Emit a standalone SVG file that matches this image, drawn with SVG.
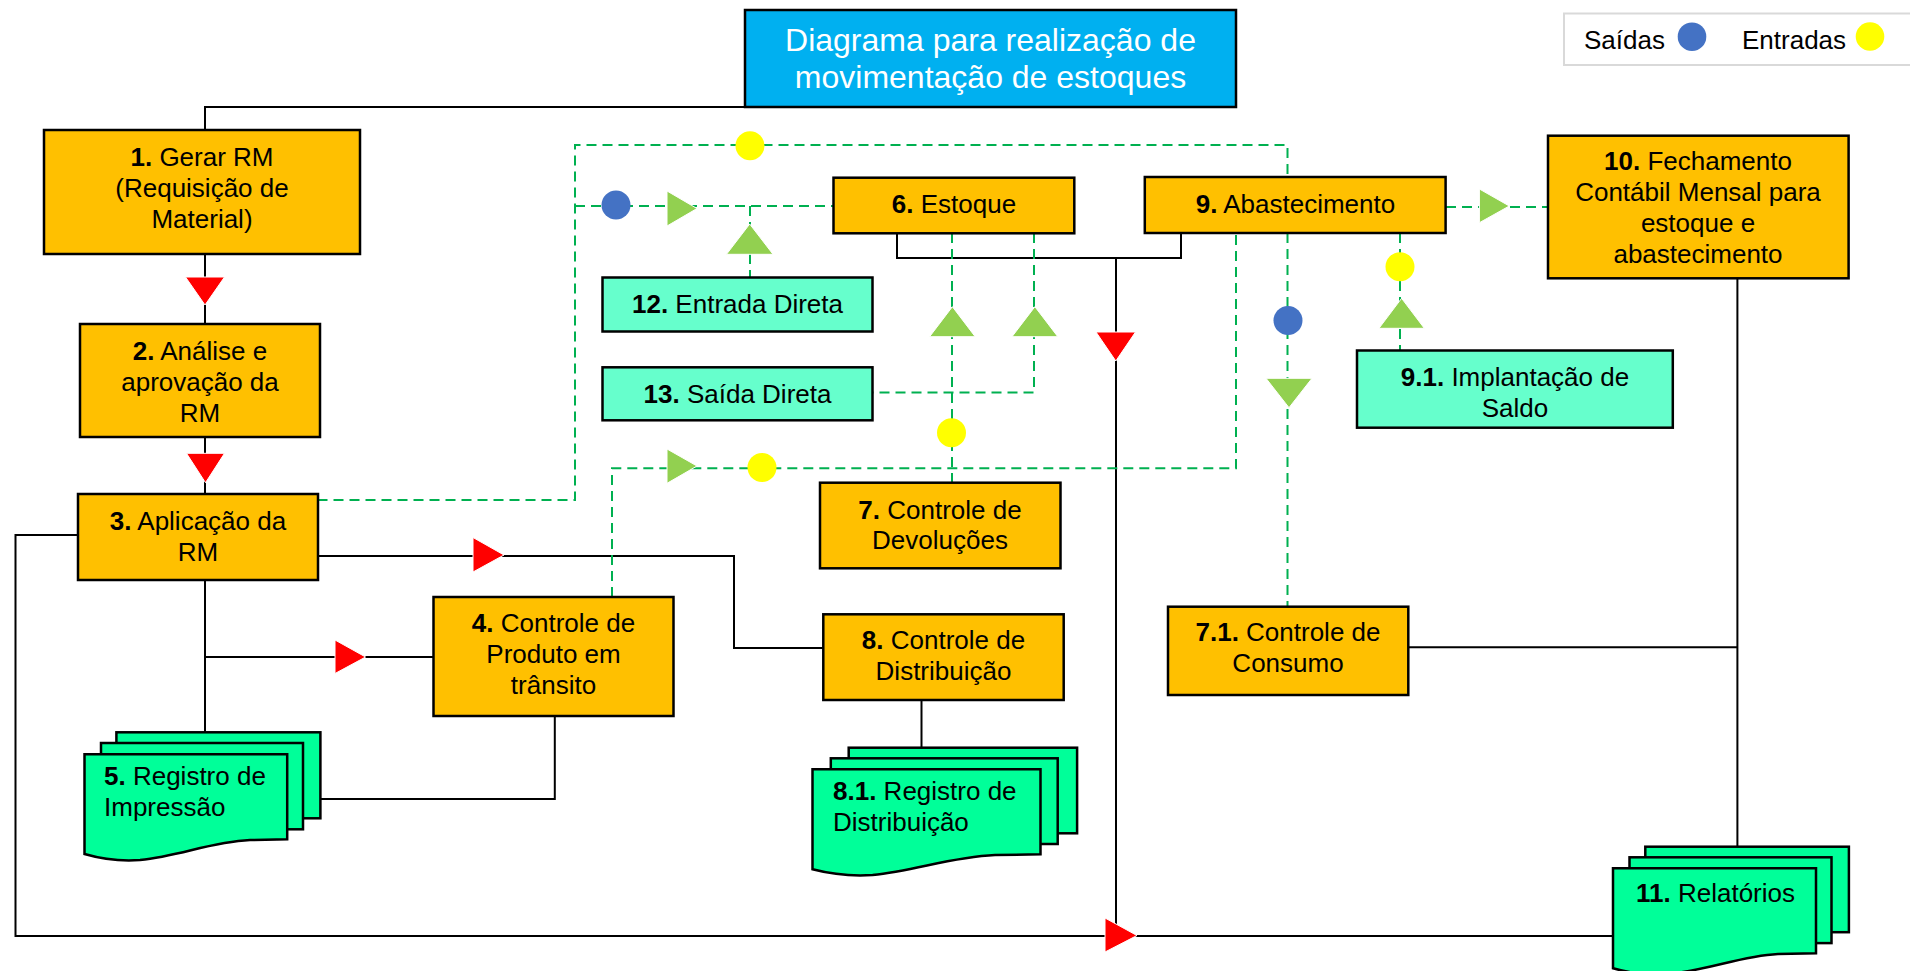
<svg xmlns="http://www.w3.org/2000/svg" width="1910" height="971" viewBox="0 0 1910 971">
<style>
.box{fill:#FFC000;stroke:#000;stroke-width:2.5}
.teal{fill:#66FFCC;stroke:#000;stroke-width:2.5}
.doc{fill:#00FF99;stroke:#000;stroke-width:2.5}
.ln{fill:none;stroke:#000;stroke-width:2}
.dash{fill:none;stroke:#00B050;stroke-width:2;stroke-dasharray:10 6}
.t{font-family:"Liberation Sans",Arial,sans-serif;font-size:26px;fill:#000}
.c{text-anchor:middle}
.b{font-weight:bold}
.red{fill:#FF0000;stroke:#fff;stroke-width:1}
.grn{fill:#92D050;stroke:#fff;stroke-width:1}
.blue{fill:#4472C4}
.yel{fill:#FFFF00}
</style>
<rect width="1910" height="971" fill="#fff"/>

<g id="connectors">
  <path class="ln" d="M205,130 V107 H745"/>
  <path class="ln" d="M205,254 V324"/>
  <path class="ln" d="M205,437 V494"/>
  <path class="ln" d="M78,535 H15.5 V936 H1613"/>
  <path class="ln" d="M317.5,556 H734 V648 H823"/>
  <path class="ln" d="M205,580 V732"/>
  <path class="ln" d="M205,657 H433.5"/>
  <path class="ln" d="M554.8,715.7 V799 H320"/>
  <path class="ln" d="M921.5,700 V747.7"/>
  <path class="ln" d="M897,233 V258 H1181 V233"/>
  <path class="ln" d="M1116,258 V936"/>
  <path class="ln" d="M1408,647.3 H1737.4"/>
  <path class="ln" d="M1737.4,278 V846.7"/>

  <path class="dash" d="M317.5,500 H575 V145 H1287.5 V177"/>
  <path class="dash" d="M575,206 H833"/>
  <path class="dash" d="M750,206 V277"/>
  <path class="dash" d="M952,233 V483"/>
  <path class="dash" d="M1034,233 V392.5 H872.5"/>
  <path class="dash" d="M612,597 V468.3 H1236 V233"/>
  <path class="dash" d="M1287.5,233 V607"/>
  <path class="dash" d="M1400,233 V350"/>
  <path class="dash" d="M1446,207 H1548"/>

  <g id="markers">
    <polygon class="red" points="185.5,277 224.5,277 205,305"/>
    <polygon class="red" points="186.5,453.3 224.5,453.3 205.5,482.7"/>
    <polygon class="red" points="473,537.5 473,572 504,555"/>
    <polygon class="red" points="335,640 335,673.5 365.6,657"/>
    <polygon class="red" points="1096,332 1135.5,332 1115.8,361"/>
    <polygon class="red" points="1105,918 1105,952 1137,935.5"/>

    <polygon class="grn" points="667,191 667,226 697,208.5"/>
    <polygon class="grn" points="726.5,254.3 773,254.3 749.7,224"/>
    <polygon class="grn" points="929.6,336.7 975.2,336.7 952.4,306.7"/>
    <polygon class="grn" points="1012,336.7 1057.8,336.7 1034.9,306.7"/>
    <polygon class="grn" points="667,449 667,483.3 697,466"/>
    <polygon class="grn" points="1266,378.3 1312,378.3 1289,407.7"/>
    <polygon class="grn" points="1379,328.3 1424.3,328.3 1401.6,298.3"/>
    <polygon class="grn" points="1479.4,189 1479.4,222.7 1509.3,206"/>

    <circle class="blue" cx="616" cy="205" r="14.5"/>
    <circle class="blue" cx="1288" cy="320.5" r="14.5"/>
    <circle class="yel" cx="750" cy="145.7" r="14.5"/>
    <circle class="yel" cx="951.5" cy="432.7" r="14.5"/>
    <circle class="yel" cx="762" cy="467.5" r="14.5"/>
    <circle class="yel" cx="1400" cy="266.7" r="14.5"/>
  </g>
</g>

<g id="title">
  <rect x="745" y="10" width="491" height="97" fill="#00B0F0" stroke="#000" stroke-width="2.5"/>
  <text class="t c" x="990.5" y="50.7" style="font-size:32px;fill:#fff">Diagrama para realização de</text>
  <text class="t c" x="990.5" y="88.3" style="font-size:32px;fill:#fff">movimentação de estoques</text>
</g>

<g id="legend">
  <rect x="1564" y="13.5" width="350" height="51.5" fill="#fff" stroke="#D9D9D9" stroke-width="2"/>
  <text class="t" x="1584" y="48.5">Saídas</text>
  <circle class="blue" cx="1692" cy="36.7" r="14.3"/>
  <text class="t" x="1742" y="48.5">Entradas</text>
  <circle class="yel" cx="1870" cy="36.5" r="14.3"/>
</g>

<g id="n1">
  <rect class="box" x="44" y="130" width="316" height="124"/>
  <text class="t c" x="202" y="166"><tspan class="b">1.</tspan> Gerar RM</text>
  <text class="t c" x="202" y="197">(Requisição de</text>
  <text class="t c" x="202" y="228">Material)</text>
</g>

<g id="n2">
  <rect class="box" x="80" y="324" width="240" height="113"/>
  <text class="t c" x="200" y="360"><tspan class="b">2.</tspan> Análise e</text>
  <text class="t c" x="200" y="391">aprovação da</text>
  <text class="t c" x="200" y="422">RM</text>
</g>

<g id="n3">
  <rect class="box" x="78" y="494" width="240" height="86"/>
  <text class="t c" x="198" y="530"><tspan class="b">3.</tspan> Aplicação da</text>
  <text class="t c" x="198" y="561">RM</text>
</g>

<g id="n4">
  <rect class="box" x="433.5" y="597" width="240" height="119"/>
  <text class="t c" x="553.5" y="632"><tspan class="b">4.</tspan> Controle de</text>
  <text class="t c" x="553.5" y="663">Produto em</text>
  <text class="t c" x="553.5" y="694">trânsito</text>
</g>

<g id="n5">
  <rect class="doc" x="116.4" y="732.3" width="204" height="86"/>
  <rect class="doc" x="101" y="743" width="202" height="86.3"/>
  <path class="doc" d="M84.5,754.3 H287.2 V839.3 L250,840 C210,842 180,856 140,860 Q112,862 84.5,854 Z"/>
  <text class="t" x="104" y="785"><tspan class="b">5.</tspan> Registro de</text>
  <text class="t" x="104" y="816">Impressão</text>
</g>

<g id="n6">
  <rect class="box" x="833.5" y="177.7" width="240.8" height="55.6"/>
  <text class="t c" x="954" y="213"><tspan class="b">6.</tspan> Estoque</text>
</g>

<g id="n7">
  <rect class="box" x="820" y="482.7" width="240.5" height="85.6"/>
  <text class="t c" x="940" y="518.5"><tspan class="b">7.</tspan> Controle de</text>
  <text class="t c" x="940" y="549">Devoluções</text>
</g>

<g id="n71">
  <rect class="box" x="1168" y="606.7" width="240.3" height="88.3"/>
  <text class="t c" x="1288" y="641"><tspan class="b">7.1.</tspan> Controle de</text>
  <text class="t c" x="1288" y="672">Consumo</text>
</g>

<g id="n8">
  <rect class="box" x="823.3" y="614.3" width="240.4" height="85.7"/>
  <text class="t c" x="943.5" y="649"><tspan class="b">8.</tspan> Controle de</text>
  <text class="t c" x="943.5" y="680">Distribuição</text>
</g>

<g id="n81">
  <rect class="doc" x="848.7" y="747.7" width="228.4" height="85.6"/>
  <rect class="doc" x="830.8" y="758.3" width="226.9" height="85.7"/>
  <path class="doc" d="M812.5,769.3 H1040.5 V854.3 L995,855 C950,857 915,871 872.6,875 Q842,877 812.5,869.3 Z"/>
  <text class="t" x="833" y="800"><tspan class="b">8.1.</tspan> Registro de</text>
  <text class="t" x="833" y="831">Distribuição</text>
</g>

<g id="n9">
  <rect class="box" x="1144.8" y="177" width="300.8" height="56"/>
  <text class="t c" x="1295.5" y="213"><tspan class="b">9.</tspan> Abastecimento</text>
</g>

<g id="n91">
  <rect class="teal" x="1357" y="350.5" width="315.8" height="77.2"/>
  <text class="t c" x="1515" y="386"><tspan class="b">9.1.</tspan> Implantação de</text>
  <text class="t c" x="1515" y="416.5">Saldo</text>
</g>

<g id="n10">
  <rect class="box" x="1548" y="135.7" width="300.6" height="142.6"/>
  <text class="t c" x="1698" y="170"><tspan class="b">10.</tspan> Fechamento</text>
  <text class="t c" x="1698" y="201">Contábil Mensal para</text>
  <text class="t c" x="1698" y="232">estoque e</text>
  <text class="t c" x="1698" y="263">abastecimento</text>
</g>

<g id="n11">
  <rect class="doc" x="1645.3" y="846.7" width="203.6" height="85.5"/>
  <rect class="doc" x="1629.5" y="857.3" width="202" height="85.8"/>
  <path class="doc" d="M1613,868.3 H1816 V953.3 L1778,954 C1740,956 1710,970 1668,974 Q1640,976 1613,968.3 Z"/>
  <text class="t c" x="1715.5" y="901.7"><tspan class="b">11.</tspan> Relatórios</text>
</g>

<g id="n12">
  <rect class="teal" x="602.5" y="277.5" width="270" height="54"/>
  <text class="t c" x="737.5" y="313.3"><tspan class="b">12.</tspan> Entrada Direta</text>
</g>

<g id="n13">
  <rect class="teal" x="602.5" y="367.3" width="270" height="53"/>
  <text class="t c" x="737.5" y="403.3"><tspan class="b">13.</tspan> Saída Direta</text>
</g>
</svg>
